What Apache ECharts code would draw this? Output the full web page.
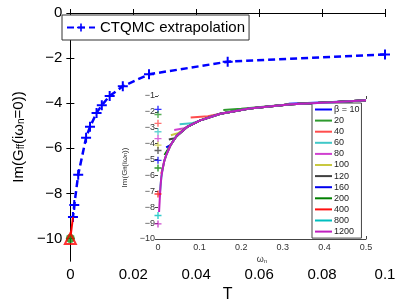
<!DOCTYPE html>
<html><head><meta charset="utf-8">
<script src="https://cdn.jsdelivr.net/npm/echarts@6/dist/echarts.min.js"></script>
<style>html,body{margin:0;padding:0;background:#fff}#c{width:399px;height:308px}</style>
</head><body><div id="c"></div>
<script>
// Main panel data
const T = [0.1, 0.05, 0.025, 0.01667, 0.0125, 0.01, 0.00833, 0.00625, 0.005, 0.0025, 0.00125, 0.000833];
const ImG0 = [-1.84, -2.16, -2.72, -3.25, -3.68, -4.09, -4.43, -5.05, -5.53, -7.17, -8.52, -9.05];
const extrapT = [0];
const extrapVal = [-10];
const xTicks = [0, 0.02, 0.04, 0.06, 0.08, 0.1];
const yTicks = [0, -2, -4, -6, -8, -10];

// Inset data
const betaNames = ['β = 10','20','40','60','80','100','120','160','200','400','800','1200'];
const betaColors = ['#0000ff','#2e9a2e','#ff4d4d','#40c8c8','#d040d0','#c8c840','#404040','#0000ee','#008000','#ff1010','#00bfbf','#c020c0'];
const w10 = [0.314,0.42,0.5];             const g10 = [-1.48,-1.38,-1.28];
const w20 = [0.157,0.2,0.32,0.42,0.5];    const g20 = [-1.88,-1.8,-1.52,-1.39,-1.27];
const w40 = [0.0785,0.12,0.15,0.22,0.32,0.42,0.5]; const g40 = [-2.36,-2.28,-2.12,-1.78,-1.52,-1.39,-1.27];
const w60 = [0.052,0.08,0.1,0.15,0.22,0.32,0.42,0.5]; const g60 = [-2.78,-2.72,-2.55,-2.12,-1.78,-1.52,-1.39,-1.27];
const w80 = [0.039,0.06,0.07,0.1,0.15,0.22,0.32,0.42,0.5]; const g80 = [-3.14,-3.05,-2.95,-2.55,-2.12,-1.78,-1.52,-1.39,-1.27];
const w100 = [0.031,0.05,0.07,0.1,0.15,0.22,0.32,0.42,0.5]; const g100 = [-3.47,-3.32,-2.95,-2.55,-2.12,-1.78,-1.52,-1.39,-1.27];
const w120 = [0.026,0.04,0.07,0.1,0.15,0.22,0.32,0.42,0.5]; const g120 = [-3.74,-3.66,-2.95,-2.55,-2.12,-1.78,-1.52,-1.39,-1.27];
const w160 = [0.0196,0.03,0.045,0.07,0.1,0.15,0.22,0.32,0.42,0.5]; const g160 = [-4.24,-4.1,-3.5,-2.95,-2.55,-2.12,-1.78,-1.52,-1.39,-1.27];
const w200 = [0.0157,0.02,0.03,0.045,0.07,0.1,0.15,0.22,0.32,0.42,0.5]; const g200 = [-4.72,-4.68,-4.1,-3.5,-2.95,-2.55,-2.12,-1.78,-1.52,-1.39,-1.27];
const w400 = [0.0079,0.011,0.015,0.02,0.03,0.045,0.07,0.1,0.15,0.22,0.32,0.42,0.5]; const g400 = [-5.9,-5.6,-5.1,-4.7,-4.1,-3.5,-2.95,-2.55,-2.12,-1.78,-1.52,-1.39,-1.27];
const w800 = [0.0039,0.006,0.008,0.011,0.015,0.02,0.03,0.045,0.07,0.1,0.15,0.22,0.32,0.42,0.5]; const g800 = [-7.3,-6.7,-6.1,-5.6,-5.1,-4.7,-4.1,-3.5,-2.95,-2.55,-2.12,-1.78,-1.52,-1.39,-1.27];
const w1200 = [0.0026,0.004,0.006,0.008,0.011,0.015,0.02,0.03,0.045,0.07,0.1,0.15,0.22,0.32,0.42,0.5]; const g1200 = [-8.3,-7.6,-6.7,-6.1,-5.6,-5.1,-4.7,-4.1,-3.5,-2.95,-2.55,-2.12,-1.78,-1.52,-1.39,-1.27];
const insetW = [w10,w20,w40,w60,w80,w100,w120,w160,w200,w400,w800,w1200];
const insetG = [g10,g20,g40,g60,g80,g100,g120,g160,g200,g400,g800,g1200];

const FONT = 'Liberation Sans, Arial, sans-serif';
const zip = (a,b) => a.map((v,i)=>[v,b[i]]);
const minus = v => String(v).replace('-', '\u2212');
const PLUS = 'path://M4,0h2v10h-2z M0,4h10v2h-10z';

const chart = echarts.init(document.getElementById('c'), null, {renderer:'canvas'});

const series = [
  { name:'CTQMC extrapolation', type:'line', xAxisIndex:0, yAxisIndex:0,
    data: zip(T, ImG0), color:'#0000ff',
    lineStyle:{width:2.5, type:[7,4], color:'#0000ff'},
    symbol: PLUS, symbolSize:10, showAllSymbol:true, clip:false,
    itemStyle:{color:'#0000ff'}, z:3 },
  { name:'extrap', type:'line', xAxisIndex:0, yAxisIndex:0,
    data: [[T[T.length-1], ImG0[ImG0.length-1]], [extrapT[0], extrapVal[0]]],
    lineStyle:{width:2, color:'#ff0000'}, symbol:'none', clip:false, z:4 },
  { name:'circ', type:'scatter', xAxisIndex:0, yAxisIndex:0,
    data: zip(extrapT, extrapVal), symbol:'circle', symbolSize:9,
    itemStyle:{color:'#109010'}, clip:false, z:5 },
  { name:'tri', type:'scatter', xAxisIndex:0, yAxisIndex:0,
    data: zip(extrapT, extrapVal), symbol:'triangle', symbolSize:11,
    itemStyle:{color:'rgba(0,0,0,0)', borderColor:'#ff0000', borderWidth:2}, clip:false, z:6 }
];
betaNames.forEach((n,i)=>{
  series.push({ name:n, type:'line', xAxisIndex:2, yAxisIndex:2,
    data: zip(insetW[i], insetG[i]), symbol:'none', color:betaColors[i],
    lineStyle:{width:2, color:betaColors[i]}, z:10+i });
});
series.push({ name:'w0', type:'scatter', xAxisIndex:2, yAxisIndex:2, clip:false, z:30,
  symbol: PLUS, symbolSize:7,
  data: ImG0.map((v,i)=>({value:[0, v], itemStyle:{color:betaColors[i]}})) });

const tickMain = {inside:true, length:4, lineStyle:{color:'#000'}};
const tickInset = {inside:true, length:3, lineStyle:{color:'#444'}};

chart.setOption({
  animation:false,
  textStyle:{fontFamily:FONT},
  grid:[
    {left:58, top:13, width:327, height:258, containLabel:false},
    {left:158, top:96, width:208, height:143, show:true, backgroundColor:'#fff', borderWidth:0, z:5}
  ],
  legend:[
    { data:['CTQMC extrapolation'], left:62, top:15, orient:'horizontal',
      itemWidth:28, itemHeight:10, padding:[5,4,5,4], borderColor:'#333', borderWidth:1,
      backgroundColor:'#fff', textStyle:{fontSize:15, color:'#000', fontFamily:FONT}, itemGap:2 },
    { data: betaNames, left:312, top:103, orient:'vertical', z:20,
      itemWidth:17, itemHeight:8, itemGap:2.1, padding:[2,2,2,2],
      itemStyle:{color:'rgba(0,0,0,0)', borderWidth:0, opacity:0},
      lineStyle:{width:2},
      borderColor:'#444', borderWidth:1, backgroundColor:'#fff',
      textStyle:{fontSize:9, color:'#222', fontFamily:FONT, padding:[0,0,0,-3]} }
  ],
  xAxis:[
    { gridIndex:0, type:'value', position:'bottom', min:0, max:0.1, interval:0.02,
      axisLine:{lineStyle:{color:'#000', width:1}}, axisTick:tickMain, splitLine:{show:false},
      axisLabel:{fontSize:15, color:'#000', margin:6, fontFamily:FONT},
      name:'T', nameLocation:'middle', nameGap:26, nameTextStyle:{fontSize:16, color:'#000', fontFamily:FONT} },
    { gridIndex:0, type:'value', position:'top', min:0, max:0.1, interval:0.02,
      axisLine:{lineStyle:{color:'#000'}}, axisTick:tickMain, axisLabel:{show:false}, splitLine:{show:false} },
    { gridIndex:1, type:'value', position:'bottom', min:0, max:0.5, interval:0.1,
      axisLine:{lineStyle:{color:'#444'}}, axisTick:tickInset, splitLine:{show:false},
      axisLabel:{fontSize:9, color:'#333', margin:4, fontFamily:FONT},
      name:'{a|ω}{s|n}', nameLocation:'middle', nameGap:14,
      nameTextStyle:{rich:{a:{fontSize:9, color:'#333', lineHeight:9, verticalAlign:'top'}, s:{fontSize:6, color:'#333', lineHeight:6, verticalAlign:'bottom', padding:[5,0,0,0]}}} },
    { gridIndex:1, type:'value', position:'top', min:0, max:0.5, interval:0.1,
      axisLine:{lineStyle:{color:'#444'}}, axisTick:tickInset, axisLabel:{show:false}, splitLine:{show:false} }
  ],
  yAxis:[
    { gridIndex:0, type:'value', position:'left', min:-11, max:0,
      axisLine:{lineStyle:{color:'#000'}}, splitLine:{show:false},
      axisTick:Object.assign({customValues:yTicks}, tickMain),
      axisLabel:{customValues:yTicks, fontSize:15, color:'#000', margin:8, fontFamily:FONT, formatter:minus},
      name:'{a|Im(G}{s|ff}{a|(iω}{s|n}{a|=0))}', nameLocation:'middle', nameRotate:90, nameGap:41,
      nameTextStyle:{rich:{a:{fontSize:15, color:'#000', lineHeight:15, verticalAlign:'top', fontFamily:FONT},
                           s:{fontSize:10, color:'#000', lineHeight:10, verticalAlign:'bottom', padding:[8,0,0,0], fontFamily:FONT}}} },
    { gridIndex:0, type:'value', position:'right', min:-11, max:0,
      axisLine:{lineStyle:{color:'#000'}}, splitLine:{show:false},
      axisTick:Object.assign({customValues:yTicks}, tickMain), axisLabel:{show:false} },
    { gridIndex:1, type:'value', position:'left', min:-10, max:-1, interval:1,
      axisLine:{lineStyle:{color:'#444'}}, axisTick:tickInset, splitLine:{show:false},
      axisLabel:{fontSize:9, color:'#333', margin:3, fontFamily:FONT, formatter:minus},
      name:'{a|Im(G}{s|ff}{a|(iω}{s|n}{a|))}', nameLocation:'middle', nameRotate:90, nameGap:22,
      nameTextStyle:{rich:{a:{fontSize:8, color:'#333', lineHeight:8, verticalAlign:'top', fontFamily:FONT},
                           s:{fontSize:5.5, color:'#333', lineHeight:5.5, verticalAlign:'bottom', padding:[4,0,0,0], fontFamily:FONT}}} },
    { gridIndex:1, type:'value', position:'right', min:-10, max:-1, interval:1,
      axisLine:{lineStyle:{color:'#444'}}, axisTick:tickInset, axisLabel:{show:false}, splitLine:{show:false} }
  ],
  series: series
});
</script></body></html>
